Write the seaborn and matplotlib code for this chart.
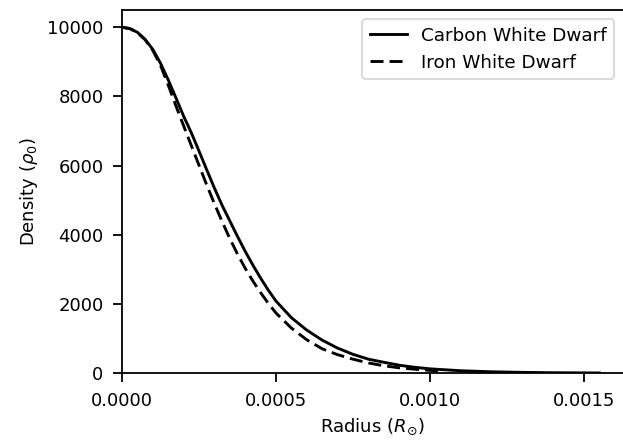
import numpy as np
import pandas as pd
import matplotlib
matplotlib.use('Agg')
import matplotlib.pyplot as plt
import seaborn as sns

# values (radius in solar radii, density in rho_0)
carbon_radius = [0, 0.25e-4, 0.5e-4, 0.75e-4, 1.0e-4, 1.25e-4, 1.5e-4, 1.75e-4, 2.0e-4,
                 2.25e-4, 2.5e-4, 2.75e-4, 3.0e-4, 3.25e-4, 3.5e-4, 3.75e-4, 4.0e-4,
                 4.25e-4, 4.5e-4, 4.75e-4, 5.0e-4, 5.5e-4, 6.0e-4, 6.5e-4, 7.0e-4,
                 7.5e-4, 8.0e-4, 8.5e-4, 9.0e-4, 9.5e-4, 10.0e-4, 11.0e-4, 12.0e-4,
                 13.0e-4, 14.0e-4, 15.0e-4, 15.5e-4]
carbon_density = [10000, 9965, 9855, 9650, 9360, 8960, 8480, 7960, 7430,
                  6950, 6420, 5880, 5350, 4850, 4400, 3950, 3520,
                  3120, 2745, 2395, 2080, 1600, 1240, 950, 720,
                  540, 400, 310, 225, 165, 120, 65, 35,
                  18, 8, 3, 1]

iron_radius = [0, 0.25e-4, 0.5e-4, 0.75e-4, 1.0e-4, 1.25e-4, 1.5e-4, 1.75e-4, 2.0e-4,
               2.25e-4, 2.5e-4, 2.75e-4, 3.0e-4, 3.25e-4, 3.5e-4, 3.75e-4, 4.0e-4,
               4.25e-4, 4.5e-4, 4.75e-4, 5.0e-4, 5.5e-4, 6.0e-4, 6.5e-4, 7.0e-4,
               7.5e-4, 8.0e-4, 8.5e-4, 9.0e-4, 9.5e-4, 10.0e-4, 10.4e-4]
iron_density = [10000, 9962, 9850, 9640, 9330, 8900, 8330, 7730, 7150,
                6580, 6010, 5440, 4900, 4380, 3890, 3440, 3030,
                2660, 2325, 2015, 1735, 1300, 960, 700, 530,
                400, 290, 210, 150, 110, 75, 55]

carbon = pd.DataFrame({'radius': carbon_radius, 'density': carbon_density})
iron = pd.DataFrame({'radius': iron_radius, 'density': iron_density})

plt.rcParams['axes.linewidth'] = 1.0
plt.rcParams['xtick.major.size'] = 4.8
plt.rcParams['ytick.major.size'] = 4.8
plt.rcParams['xtick.major.width'] = 1.0
plt.rcParams['ytick.major.width'] = 1.0
plt.rcParams['xtick.major.pad'] = 5.5
plt.rcParams['ytick.major.pad'] = 5.5

dpi = 130
fig = plt.figure(figsize=(623 / dpi, 447 / dpi), dpi=dpi)
ax_left, ax_right = 122 / 623, 1.0 + 0.5 / 623
ax = fig.add_axes([ax_left, 74 / 447, ax_right - ax_left, 363 / 447])

sns.lineplot(data=carbon, x='radius', y='density', color='black',
             linewidth=1.6, label='Carbon White Dwarf', ax=ax)
sns.lineplot(data=iron, x='radius', y='density', color='black',
             dashes=False, linewidth=1.6, label='Iron White Dwarf', ax=ax)
ax.lines[1].set_dashes((4.5, 2.1))

px_per_unit = 154 / 0.0005
ax.set_xlim(0, (ax_right - ax_left) * 623 / px_per_unit)
ax.set_ylim(0, 10500)
ax.set_xticks([0, 0.0005, 0.0010, 0.0015])
ax.set_xticklabels(['0.0000', '0.0005', '0.0010', '0.0015'])
ax.set_yticks([0, 2000, 4000, 6000, 8000, 10000])

ax.set_xlabel(r'Radius ($R_{\odot}$)')
ax.set_ylabel(r'Density ($\rho_0$)')
leg = ax.legend(loc='upper right', fontsize=10.2)
leg.get_lines()[1].set_dashes((4.5, 2.1))

fig.savefig('out.png', dpi=dpi)
